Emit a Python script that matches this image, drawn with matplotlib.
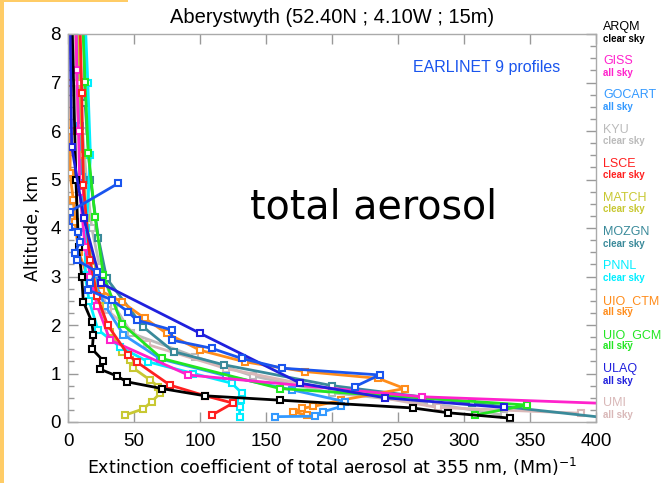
import matplotlib
matplotlib.use("Agg")
import matplotlib.pyplot as plt
from matplotlib.patches import Rectangle
from matplotlib.ticker import MultipleLocator

# ---- model and lidar extinction profiles: (extinction, altitude km) ----
arqm_x = [3, 6, 8, 10.4, 11.6, 18, 19.2, 18.4, 26.8, 24.2, 36.9, 44.4, 71, 103.8, 160.6, 261, 288, 335]
arqm_z = [8.3, 5.0, 3.6, 3.0, 2.48, 2.07, 1.79, 1.50, 1.26, 1.09, 0.95, 0.83, 0.69, 0.54, 0.45, 0.29, 0.19, 0.08]

giss_x = [6, 6.6, 8, 9, 13, 17, 22, 31.8, 91, 268, 430]
giss_z = [8.3, 7.26, 6.0, 4.75, 3.6, 3.0, 2.4, 1.69, 0.97, 0.52, 0.36]

gocart_x = [7, 9, 10.4, 12, 15, 20, 28, 42, 70, 120, 170, 210, 207, 193, 187, 157]
gocart_z = [8.3, 6.1, 5.06, 4.2, 3.4, 2.9, 2.4, 1.8, 1.3, 0.95, 0.66, 0.42, 0.32, 0.21, 0.12, 0.11]

kyu_x = [8, 9, 11, 14, 18, 24, 35, 48, 96, 140, 200, 274, 330]
kyu_z = [8.3, 7.0, 6.0, 5.0, 4.0, 3.2, 2.4, 1.83, 1.35, 0.95, 0.6, 0.39, 0.14]

lsce_x = [9, 10.4, 11.6, 16.7, 22, 30, 45.7, 52, 77.3, 104, 125, 108.8]
lsce_z = [8.3, 6.78, 4.89, 3.34, 2.6, 2.0, 1.38, 1.24, 0.76, 0.54, 0.39, 0.14]

match_x = [8, 9, 11, 14, 18, 24, 31.8, 40.7, 47, 49.5, 62, 68.4, 69.7, 63.4, 57, 43]
match_z = [8.3, 7, 5.5, 4.2, 3.2, 2.4, 1.86, 1.45, 1.28, 1.11, 0.87, 0.73, 0.59, 0.42, 0.27, 0.14]

mozgn_x = [12, 12.9, 17, 23, 29.3, 57, 80, 118, 200, 306, 410]
mozgn_z = [8.3, 6.57, 5.0, 3.79, 2.96, 1.96, 1.45, 1.18, 0.75, 0.39, 0.08]

pnnl_x = [13, 15, 17, 14, 12.9, 16, 22.7, 39.4, 60.8, 95, 124, 131.6, 131, 130, 130]
pnnl_z = [8.3, 7, 5.5, 4.0, 3.03, 2.5, 1.9, 1.55, 1.24, 1.0, 0.8, 0.6, 0.45, 0.3, 0.11]

uio_ctm_x = [3, 2.5, 2, 1.5, 4, 5.3, 8, 15, 25, 40.6, 58, 74.7, 100, 134, 179.5, 235, 255, 207, 185.6, 177, 170.5, 181]
uio_ctm_z = [8.3, 7, 6, 5.13, 4.58, 4.13, 3.5, 3.0, 2.7, 2.48, 2.14, 1.83, 1.48, 1.24, 1.04, 0.9, 0.69, 0.45, 0.32, 0.28, 0.21, 0.14]

uio_gcm_x = [11, 12.9, 15.4, 20.5, 26.8, 40.6, 71, 160.6, 347.5, 308]
uio_gcm_z = [8.3, 7.02, 5.54, 4.23, 3.03, 2.03, 1.31, 0.69, 0.35, 0.14]

ulaq_x = [1.5, 2.8, 12, 25, 100, 176, 240, 330]
ulaq_z = [8.3, 5.68, 4.2, 2.86, 1.83, 0.8, 0.5, 0.3]

umi_x = [5, 6, 8, 10, 14, 20, 30, 60, 120, 175, 280, 389]
umi_z = [8.3, 7, 6, 5, 4, 3.2, 2.3, 1.6, 1.1, 0.8, 0.3, 0.18]

earlinet_x = [38, 1.5, 0.5, 7.8, 9, 5.3, 6.6, 21.7, 16.7, 15.4, 33, 45.7, 52, 78.5, 78.5,
              108.8, 131.6, 162, 236, 217.4]
earlinet_z = [4.92, 4.34, 4.03, 3.92, 3.72, 3.48, 3.34, 3.10, 2.86, 2.72, 2.52, 2.27, 2.1, 1.9, 1.69,
              1.52, 1.31, 1.11, 0.97, 0.73]

model_names = ["ARQM", "GISS", "GOCART", "KYU", "LSCE", "MATCH", "MOZGN",
               "PNNL", "UIO_CTM", "UIO_GCM", "ULAQ", "UMI"]
model_sky = ["clear sky", "all sky", "all sky", "clear sky", "clear sky", "clear sky",
             "clear sky", "clear sky", "all sky", "all sky", "all sky", "all sky"]
model_colors = ["#000000", "#ff22cc", "#3399ff", "#bbbbbb", "#ff2020", "#c8c832",
                "#3a8a9a", "#00eeff", "#ff8c1a", "#22e622", "#2020dd", "#d9b8b8"]
model_x = [arqm_x, giss_x, gocart_x, kyu_x, lsce_x, match_x, mozgn_x,
           pnnl_x, uio_ctm_x, uio_gcm_x, ulaq_x, umi_x]
model_z = [arqm_z, giss_z, gocart_z, kyu_z, lsce_z, match_z, mozgn_z,
           pnnl_z, uio_ctm_z, uio_gcm_z, ulaq_z, umi_z]

earlinet_color = "#1a55ee"

W, H = 661, 483
fig = plt.figure(figsize=(W / 100, H / 100), dpi=100)
fig.patch.set_facecolor("white")

# slide decoration: thin orange strips
fig.patches.append(Rectangle((0, 0), 4 / W, 1, transform=fig.transFigure,
                             facecolor="#ffcc66", edgecolor="none"))
fig.patches.append(Rectangle((0, 1 - 2 / H), 128 / W, 2 / H, transform=fig.transFigure,
                             facecolor="#ffcc66", edgecolor="none"))

ax = fig.add_axes([68 / W, 1 - 422 / H, (596 - 68) / W, (422 - 34) / H])

draw_order = [3, 11, 6, 8, 2, 5, 7, 9, 1, 4, 0, 10]
for i in draw_order:
    c = model_colors[i]
    ax.plot(model_x[i], model_z[i], color=c, lw=2, marker="s", ms=5,
            mfc="white", mec=c, mew=1.5, clip_on=True)

ax.plot(earlinet_x, earlinet_z, color=earlinet_color, lw=2, marker="s", ms=5,
        mfc="white", mec=earlinet_color, mew=1.5)

ax.set_xlim(0, 400)
ax.set_ylim(0, 8)
ax.xaxis.set_major_locator(MultipleLocator(50))
ax.yaxis.set_major_locator(MultipleLocator(1))
ax.yaxis.set_minor_locator(MultipleLocator(0.25))
ax.tick_params(which="both", direction="in", top=True, right=True, color="#999999")
ax.tick_params(which="major", length=7, width=1)
ax.tick_params(which="minor", length=4, width=1)
ax.tick_params(axis="x", pad=8)
ax.tick_params(axis="y", pad=5)
for s in ax.spines.values():
    s.set_color("#aaaaaa")
    s.set_linewidth(1)

for lab in ax.get_xticklabels() + ax.get_yticklabels():
    lab.set_fontfamily("Liberation Sans")
    lab.set_fontsize(13.5)
fig.canvas.draw()
ylabels = ax.get_yticklabels()
ylabels[0].set_verticalalignment("bottom")
ylabels[-1].set_verticalalignment("top")

ax.set_title("Aberystwyth (52.40N ; 4.10W ; 15m)", fontfamily="Liberation Sans",
             fontsize=14.5, pad=8)
ax.set_xlabel("Extinction coefficient of total aerosol at 355 nm, (Mm)$^{-1}$",
              fontfamily="DejaVu Sans", fontsize=12.5, labelpad=4)
ax.set_ylabel("Altitude, km", fontfamily="DejaVu Sans", fontsize=12.5, labelpad=6)

ax.text(138, 4.43, "total aerosol", fontsize=28.5, fontfamily="DejaVu Sans",
        ha="left", va="center", color="black")
ax.text(261, 7.3, "EARLINET 9 profiles", fontsize=11.5, fontfamily="Liberation Sans",
        ha="left", va="center", color=earlinet_color)

# model key on the right
for i, (name, sky, c) in enumerate(zip(model_names, model_sky, model_colors)):
    y_name = 27 + 34.2 * i
    fig.text(603 / W, 1 - y_name / H, name, color=c, fontsize=9,
             fontfamily="Liberation Sans", ha="left", va="center")
    fig.text(603 / W, 1 - (y_name + 11.5) / H, sky, color=c, fontsize=7,
             fontfamily="Liberation Sans", fontweight="bold", ha="left", va="center")

fig.savefig("out.png", dpi=100)
